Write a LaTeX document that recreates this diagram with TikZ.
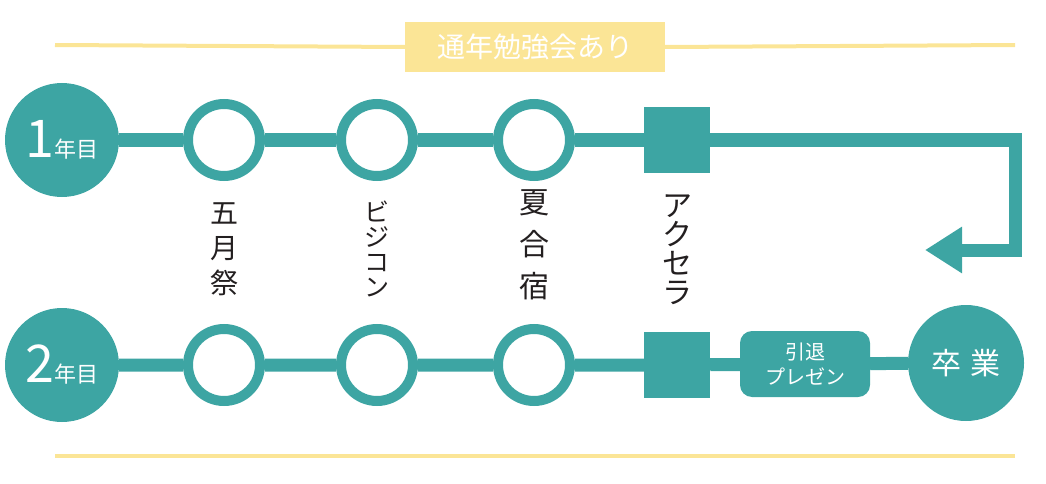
\documentclass[tikz,border=0pt]{standalone}
\usepackage{fontspec}
\setmainfont{Noto Sans CJK JP}
\usetikzlibrary{arrows.meta}
\definecolor{teal1}{HTML}{3DA5A3}
\definecolor{yel1}{HTML}{FBE596}
\definecolor{ink}{HTML}{231F20}

\begin{document}
\begin{tikzpicture}
      [x=1pt,y=-1pt,
        year/.style={circle,fill=teal1,minimum size=114pt,inner sep=0pt,text=white},
        ring/.style={circle,draw=teal1,line width=10pt,fill=white,minimum size=72pt,inner sep=0pt},
        sq/.style={rectangle,fill=teal1,minimum size=66pt,inner sep=0pt},
        track/.style={teal1,line width=13pt},
        evt/.style={align=center,text=ink,inner sep=0pt}]
  \useasboundingbox (0,0) rectangle (1046,484);
  % yellow lines
  \node (note) [fill=yel1,minimum width=260pt,minimum height=50pt,inner sep=0pt,
     text=white,font=\fontsize{28}{28}\selectfont] at (535,47) {通年勉強会あり};
  \coordinate (t1) at (55,45);
  \coordinate (t2) at (1015,45);
  \draw[yel1,line width=4pt] (t1) -- (note.west) (note.east) -- (t2);
  \coordinate (b1) at (55,456);
  \coordinate (b2) at (1015,456);
  \draw[yel1,line width=4pt] (b1) -- (b2);
  % first year
  \node (y1) [year] at (62,140) {\fontsize{52}{52}\selectfont 1\fontsize{22}{22}\selectfont 年目};
  \node (a1) [ring] at (224,140) {};
  \node (a2) [ring] at (377,140) {};
  \node (a3) [ring] at (534,140) {};
  \node (s1) [sq] at (677,140) {};
  \draw[track] (y1) -- (a1) -- (a2) -- (a3) -- (s1);
  \coordinate (back) at (925,250);
  \draw[track,line join=miter,-{Triangle[width=44pt,length=37pt]}]
     (s1.east) -- (1015,140) |- (back);
  % second year
  \node (y2) [year] at (62,365) {\fontsize{52}{52}\selectfont 2\fontsize{22}{22}\selectfont 年目};
  \node (c1) [ring] at (224,365) {};
  \node (c2) [ring] at (377,365) {};
  \node (c3) [ring] at (534,365) {};
  \node (s2) [sq] at (677,365) {};
  \node (pres) [rectangle,rounded corners=12pt,fill=teal1,minimum width=130pt,minimum height=66pt,
     text=white,align=center,font=\fontsize{20}{25}\selectfont] at (805,364) {引退\\プレゼン};
  \node (grad) [circle,fill=teal1,minimum size=116pt,inner sep=0pt,text=white,
     font=\fontsize{30}{30}\selectfont] at (966,363) {卒\hspace{9pt}業};
  \draw[track] (y2) -- (c1) -- (c2) -- (c3) -- (s2) -- (pres) -- (grad);
  % events
  \node (e1) [evt,font=\fontsize{28}{35}\selectfont] at (224,249) {五\\月\\祭};
  \node (e2) [evt,font=\fontsize{25}{25}\selectfont] at (377,249) {ビ\\ジ\\コ\\ン};
  \node (e3) [evt,font=\fontsize{30}{42}\selectfont] at (534,245) {夏\\合\\宿};
  \node (e4) [evt,font=\fontsize{30}{29}\selectfont] at (677,250) {ア\\ク\\セ\\ラ};
\end{tikzpicture}
\end{document}
